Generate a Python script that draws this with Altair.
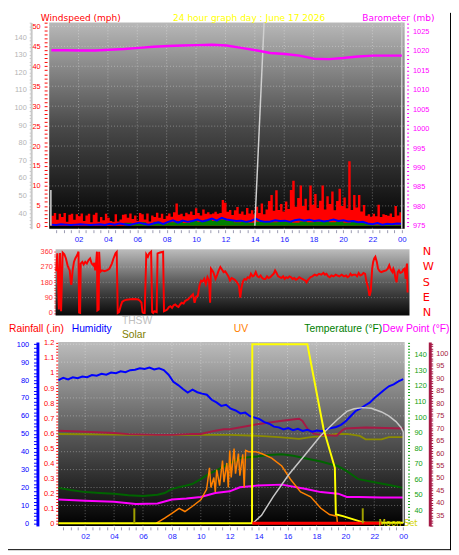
import altair as alt
import pandas as pd

# ================= readings =================
# top panel, wind (mph), samples evenly spread 00:09 -> 24:00
gust_mph = [
    2.5, 3.2, 1.5, 3.0, 2.2, 3.2,
    1.0, 2.8, 3.0, 1.5, 2.9, 2.4,
    3.1, 1.2, 2.6, 3.0, 0.9, 2.8,
    3.3, 1.0, 2.2, 1.4, 3.0, 2.0,
    1.2, 1.0, 2.9, 1.1, 1.6, 2.8,
    2.9, 2.0, 3.1, 1.7, 2.6, 1.3,
    3.2, 2.9, 1.6, 3.1, 1.1, 2.6,
    2.2, 3.3, 2.0, 3.0, 1.7, 2.5,
    3.1, 2.3, 3.4, 5.6, 2.8, 3.0,
    2.4, 3.3, 2.9, 3.6, 2.7, 4.4,
    3.2, 2.6, 4.1, 3.0, 3.4, 2.9,
    3.1, 3.5, 3.0, 3.2, 6.5, 5.8,
    3.5, 4.0, 2.7, 3.9, 4.7, 3.0,
    3.6, 2.8, 4.5, 3.1, 3.9, 2.9,
    4.8, 3.2, 5.6, 2.9, 4.1, 6.2,
    7.7, 3.8, 8.9, 4.0, 5.5, 3.6,
    6.1, 4.2, 9.0, 11.3, 4.8, 7.0,
    10.1, 5.0, 6.8, 3.9, 10.1, 5.3,
    8.0, 4.5, 6.3, 10.1, 4.1, 7.4,
    5.5, 8.6, 3.9, 6.2, 9.3, 5.0,
    7.1, 4.4, 16.2, 4.0, 7.7, 4.6,
    7.7, 3.6, 5.2, 2.5, 2.9, 2.3,
    3.0, 2.4, 5.3, 2.2, 2.9, 2.7,
    2.5, 3.1, 2.2, 5.0, 2.6, 3.4,
    4.6,
]
avg_mph = [
    0.3, 0.2, 0.4, 0.3, 0.2, 0.3, 0.4, 0.3, 0.2, 0.3, 0.4, 0.2,
    0.5, 0.3, 0.6, 0.4, 0.2, 0.5, 0.8, 0.5, 0.3, 0.6, 0.9, 0.5,
    1.0, 1.4, 0.8, 1.3, 1.0, 1.2, 1.6, 1.1, 1.4, 1.8, 1.3, 2.0,
    1.6, 1.4, 1.2, 1.3, 1.0, 1.2, 1.8, 1.2, 1.0, 1.1, 1.4, 1.2,
    1.3, 1.0, 1.4, 1.6, 1.3, 1.5, 1.2, 1.4, 1.1, 1.3, 1.6, 1.2,
    1.4, 1.1, 1.2, 0.9, 1.0, 0.6, 0.4, 0.7, 0.3, 0.5, 0.4, 0.6,
    0.5,
]
low_mph = [
    0, 0, 0, 0, 0, 0, 0, 0, 0, 0,
    0.8, 0.5, 0.9, 0.4, 1.0, 0.6, 0.9, 1.2, 0.7, 1.3, 1.0, 1.5, 1.2, 1.6,
    1.2, 0.9, 1.1, 0.8, 1.0, 1.2, 0.9, 1.1, 1.0, 0.8, 1.1, 0.9, 1.0, 1.2,
    0.9, 1.1, 0.8, 1.0, 0.7, 0.5,
    0.3, 0.2, 0.4, 0.2, 0.3,
]
baro_mb = [
    1020.2, 1020.2, 1020.1, 1020.1, 1020.3, 1020.5, 1020.8, 1021.1, 1021.3,
    1021.4, 1021.5, 1021.6, 1021.4, 1020.8, 1020.2, 1019.5, 1019.2, 1018.8,
    1018.0, 1017.9, 1018.2, 1018.6, 1018.8, 1018.8, 1018.8,
]
moon_top_mph = [(14.0, 0.0), (14.63, 51.0)]
marker_left = [(0.12, 0.0, 9.0)]

# wind direction panel (hour, degrees)
wind_dir = [
    (0.00, 245), (0.07, 350), (0.18, 20), (0.26, 352), (0.33, 10), (0.44, 355),
    (0.55, 345), (0.66, 320), (0.77, 280), (0.85, 262), (0.92, 250), (1.00, 175),
    (1.03, 165), (1.12, 250), (1.21, 300), (1.30, 320), (1.43, 340), (1.52, 360),
    (1.56, 2), (1.63, 0), (1.67, 290), (1.78, 300), (1.87, 285), (1.98, 300),
    (2.09, 290), (2.20, 310), (2.31, 320), (2.42, 290), (2.53, 280), (2.60, 295),
    (2.66, 250), (2.72, 290), (2.78, 360), (2.81, 15), (2.90, 20), (2.93, 360),
    (3.00, 240), (3.12, 250), (3.30, 245), (3.45, 250), (3.63, 260), (3.80, 290),
    (3.91, 320), (4.05, 350), (4.13, 358), (4.20, 0), (4.29, 5), (4.40, 40),
    (4.50, 65), (4.62, 72), (4.80, 78), (5.05, 80), (5.30, 82), (5.49, 81),
    (5.60, 79), (5.71, 72), (5.82, 60), (5.89, 5), (5.95, 0), (6.04, 0),
    (6.15, 345), (6.26, 330), (6.35, 350), (6.48, 360), (6.55, 5), (6.62, 0),
    (6.70, 10), (6.86, 5), (6.92, 350), (7.10, 355), (7.30, 360), (7.36, 10),
    (7.48, 15), (7.58, 20), (7.70, 35), (7.80, 40), (7.91, 30), (8.02, 45),
    (8.13, 50), (8.25, 40), (8.35, 35), (8.46, 50), (8.57, 60), (8.70, 55),
    (8.80, 70), (8.90, 75), (9.00, 80), (9.12, 90), (9.23, 100), (9.34, 110),
    (9.45, 60), (9.56, 95), (9.67, 100), (9.78, 160), (9.89, 190), (10.00, 185),
    (10.11, 200), (10.22, 170), (10.33, 210), (10.44, 190), (10.51, 60), (10.57, 260),
    (10.65, 250), (10.73, 240), (10.88, 200), (11.00, 225), (11.10, 250), (11.21, 270),
    (11.32, 255), (11.43, 240), (11.54, 245), (11.65, 230), (11.76, 215), (11.87, 190),
    (11.98, 205), (12.09, 200), (12.20, 195), (12.35, 180), (12.48, 160), (12.57, 90),
    (12.66, 150), (12.75, 185), (12.86, 200), (12.97, 195), (13.08, 210), (13.20, 205),
    (13.30, 230), (13.41, 215), (13.52, 220), (13.63, 240), (13.74, 215), (13.85, 210),
    (13.96, 220), (14.07, 205), (14.18, 200), (14.29, 200), (14.40, 215), (14.51, 205),
    (14.62, 210), (14.73, 220), (14.85, 230), (14.95, 250), (15.05, 235), (15.16, 215),
    (15.27, 210), (15.38, 205), (15.50, 215), (15.60, 200), (15.71, 210), (15.82, 205),
    (15.93, 215), (16.04, 210), (16.15, 200), (16.26, 205), (16.37, 195), (16.48, 200),
    (16.60, 210), (16.70, 205), (16.81, 200), (16.92, 195), (17.03, 190), (17.10, 180),
    (17.20, 195), (17.36, 210), (17.50, 215), (17.65, 225), (17.80, 220), (17.95, 230),
    (18.10, 225), (18.25, 235), (18.35, 225), (18.46, 230), (18.57, 215), (18.68, 210),
    (18.80, 220), (18.95, 215), (19.10, 225), (19.20, 220), (19.34, 215), (19.50, 225),
    (19.65, 215), (19.80, 220), (19.90, 210), (20.00, 215), (20.10, 230), (20.20, 220),
    (20.30, 225), (20.44, 225), (20.55, 215), (20.66, 235), (20.77, 220), (20.88, 225),
    (20.99, 235), (21.10, 230), (21.20, 180), (21.30, 150), (21.40, 100), (21.49, 130),
    (21.58, 260), (21.65, 300), (21.72, 320), (21.80, 330), (21.90, 300), (21.98, 260),
    (22.10, 245), (22.20, 240), (22.35, 245), (22.53, 250), (22.65, 260), (22.75, 280),
    (22.85, 255), (22.97, 240), (23.03, 260), (23.08, 250), (23.16, 210), (23.25, 180),
    (23.33, 240), (23.41, 250), (23.50, 235), (23.63, 240), (23.70, 255), (23.78, 260),
    (23.84, 230), (23.87, 200), (23.92, 265), (23.96, 290), (24.00, 120),
]

# bottom panel
humidity_pct = [
    80.0, 81.2, 80.4, 81.5, 81.0, 82.0, 81.6, 82.8, 82.4, 83.5, 83.0, 84.2,
    83.8, 84.9, 84.4, 85.5, 85.8, 86.6, 86.2, 87.0, 85.9, 86.6, 85.6, 83.0,
    79.0, 77.2, 75.0, 73.0, 74.6, 73.2, 72.4, 71.8, 69.0, 67.5, 65.6, 66.2,
    64.0, 63.0, 61.4, 61.8, 59.8, 59.0, 58.2, 56.5, 55.6, 54.0, 53.6, 52.4,
    53.2, 52.0, 52.8, 51.6, 52.2, 51.2, 51.8, 51.4, 52.6, 53.2, 53.8, 55.0,
    57.0, 59.8, 62.6, 64.0, 65.8, 67.4, 70.0, 72.2, 74.5, 76.5, 77.6, 79.2,
    80.5,
]
temperature_f = [
    (0.15, 54.5), (1, 53.1), (2, 51.8), (3, 51.2), (4, 50.8), (5, 49.8), (6, 49.3),
    (7, 50.1), (7.5, 51.2), (8, 53.9), (9, 56.0), (9.4, 57.0), (10, 60.1), (10.5, 63.2),
    (11, 65.5), (11.6, 68.4), (12.2, 71.0), (12.7, 73.6), (13.3, 74.2), (13.9, 74.7),
    (14.7, 75.6), (15.6, 76.1), (16.4, 75.2), (17.2, 73.6), (18.3, 71.5), (19.5, 68.4),
    (20.1, 65.3), (20.9, 60.1), (22.1, 58.0), (23.2, 56.0), (24, 54.5),
]
dew_point_f = [
    (0.15, 47.0), (2, 46.2), (4, 45.6), (5.5, 44.2), (7, 44.5), (8, 47.0), (9, 47.7),
    (10, 48.7), (11, 51.2), (12, 52.3), (12.7, 54.9), (13.9, 56.0), (15.6, 56.6),
    (17.2, 53.9), (18.3, 51.8), (19.5, 50.8), (20.1, 48.7), (20.9, 48.7), (22.5, 48.3),
    (24, 48.3),
]
crimson_f = [
    (0.15, 69.0), (2, 68.6), (4, 68.1), (5, 67.6), (7, 67.3), (8, 67.3), (9.4, 67.7),
    (10, 67.7), (11, 69.0), (11.6, 69.6), (12, 69.6), (13.9, 71.6), (15.5, 72.9),
    (16.5, 73.6), (16.8, 73.8), (17.03, 72.9), (17.4, 69.6), (17.8, 67.8), (18.3, 67.3),
    (19.4, 67.0), (19.8, 69.2), (20, 69.9), (21.4, 70.3), (24, 69.9),
]
olive_f = [
    (0.15, 67.7), (4, 67.4), (6, 67.3), (10, 67.3), (12, 67.3), (14, 66.9), (15.4, 66.4),
    (16.8, 65.7), (17.6, 66.4), (18.5, 66.9), (19.4, 67.7), (20.1, 67.7), (21, 66.9),
    (21.4, 65.5), (22.5, 65.5), (23, 66.4), (24, 66.4),
]
uv_line = [
    (6.9, 0), (7.5, 2.9), (8.0, 5.6), (8.5, 8.4), (8.9, 6.6), (9.4, 9.4), (10.0, 13.1),
    (10.4, 19), (10.6, 31), (10.7, 20), (10.9, 25.6), (11.0, 17.5), (11.1, 30), (11.3, 21),
    (11.5, 35), (11.6, 23), (11.8, 33.7), (11.9, 20), (12.0, 40.7), (12.1, 25.6),
    (12.3, 41.8), (12.4, 27.7), (12.6, 39), (12.7, 26.6), (12.9, 38.5), (13.0, 20),
    (13.1, 40.7), (13.3, 40), (13.8, 40), (14.2, 39), (14.9, 36.4), (15.6, 32),
    (16.2, 24.6), (16.9, 17.5), (17.6, 14.8), (18.3, 8.4), (18.9, 4.9), (19.4, 4),
    (19.45, 0),
]
sun_line = [
    (0.15, 0), (13.54, 0), (13.56, 100), (17.37, 100), (18.49, 52.7), (19.27, 31),
    (19.34, 5), (19.38, 4.9), (19.83, 4.0), (20.72, 1.8), (21.17, 0.7), (21.38, 0.3),
    (24, 0.3),
]
moon_line = [
    (13.6, 0), (14.2, 4.5), (15.0, 14.8), (16.1, 27.4), (17.2, 38.2), (18.3, 49),
    (19.45, 58), (20.1, 62.5), (20.6, 64), (21.2, 64.6), (21.8, 64.2), (22.5, 62.2),
    (23.0, 60.0), (23.5, 56.8), (23.85, 53.5), (24.0, 51), (24.0, 0),
]
rain_in = [(13.56, 0.0), (22.5, 0.0)]
moon_ticks = [(5.4, 8.4), (21.2, 8.4)]

# tick labels
hour_ticks = [2, 4, 6, 8, 10, 12, 14, 16, 18, 20, 22, 24]
hour_labels = ["02", "04", "06", "08", "10", "12", "14", "16", "18", "20", "22", "00"]
wind_labels = [0, 5, 10, 15, 20, 25, 30, 35, 40, 45, 50]
gray_labels = [40, 50, 60, 70, 80, 90, 100, 110, 120, 130, 140]
baro_labels = [975, 980, 985, 990, 995, 1000, 1005, 1010, 1015, 1020, 1025]
dir_label_deg = [0, 90, 180, 270, 360]
dir_letters = ["N", "E", "S", "W", "N"]
hum_labels = [0, 10, 20, 30, 40, 50, 60, 70, 80, 90, 100]
rain_labels = [0, 0.1, 0.2, 0.3, 0.4, 0.5, 0.6, 0.7, 0.8, 0.9, 1, 1.1, 1.2]
temp_labels = [40, 50, 60, 70, 80, 90, 100, 110, 120, 130, 140]
dew_labels = [35, 40, 45, 50, 55, 60, 65, 70, 75, 80, 85, 90, 95, 100, 105]

# ================= layout =================
W, H = 451, 547
SX, SY = W / 459, H / 555


def vx(x):
    return x * SX


def vy(y):
    return y * SY


def lin(cal, p):
    (v1, p1), (v2, p2) = cal
    return v1 + (p - p1) * (v2 - v1) / (p2 - p1)


def mk_scale(cal, p_lo, p_hi, horizontal):
    f = vx if horizontal else vy
    dom = [lin(cal, p_lo), lin(cal, p_hi)]
    return dom, alt.Scale(domain=dom, range=[f(p_lo), f(p_hi)], zero=False, nice=False)


def span(n, start=0.15, end=24.0):
    step = (end - start) / (n - 1)
    return [round(start + i * step, 4) for i in range(n)]


def label_expr(vals, texts):
    s = "''"
    for v, t in reversed(list(zip(vals, texts))):
        s = f"abs(datum.value - {v}) < 1e-6 ? '{t}' : ({s})"
    return s


def y_axis(orient, at, values, labels, texts, color, tick_size, pad,
           domain_color=None, domain_width=1, font_size=7.5,
           font="Liberation Sans", tick_color=None, ticks=True):
    kw = dict(orient=orient, offset=(-vx(at) if orient == "left" else vx(at) - W),
              values=values, labelExpr=label_expr(labels, texts), labelColor=color,
              labelFont=font, labelFontSize=font_size, labelPadding=pad,
              labelOverlap=False, labelFlush=False, grid=False, title=None,
              ticks=ticks, tickSize=tick_size, tickColor=tick_color or color,
              tickWidth=1, domain=domain_color is not None)
    if domain_color is not None:
        kw.update(domainColor=domain_color, domainWidth=domain_width)
    return alt.Axis(**kw)


def x_axis(at):
    return alt.Axis(orient="bottom", offset=vy(at) - H,
                    values=[i * 0.5 for i in range(1, 49)],
                    labelExpr=label_expr(hour_ticks, hour_labels),
                    labelColor="#2020ff", labelFont="Liberation Sans", labelFontSize=8,
                    labelPadding=3, labelOverlap=False, labelFlush=False, grid=False,
                    title=None, ticks=True, tickSize=3, tickColor="#9a9ab0",
                    tickWidth=1, domain=False)


# scales per panel (calibrated from tick label positions in the reference)
tx_dom, tx = mk_scale(((0, 42.6), (24, 408)), 42.7, 411, True)
wind_dom, wind_s = mk_scale(((0, 220), (50, 14)), 223, 10, False)
baro_dom, baro_s = mk_scale(((975, 220), (1025, 19.3)), 223, 10, False)
gray_dom, gray_s = mk_scale(((40, 207), (140, 25)), 223, 10, False)

dx_dom, dx = mk_scale(((0, 50), (24, 414)), 49.3, 416, True)
dir_dom, dir_s = mk_scale(((0, 310), (360, 246.7)), 312.7, 244.3, False)

bx_dom, bx = mk_scale(((0, 50), (24, 409.5)), 52, 411, True)
hum_dom, hum_s = mk_scale(((0, 527.3), (100, 342.3)), 530, 340, False)
rain_dom, rain_s = mk_scale(((0, 527.3), (1.2, 341)), 530, 340, False)
temp_dom, temp_s = mk_scale(((40, 514), (140, 353.3)), 530, 340, False)
dew_dom, dew_s = mk_scale(((35, 519), (105, 339)), 530, 340, False)


def grad(stops):
    return {"gradient": "linear", "x1": 0, "x2": 0, "y1": 0, "y2": 1,
            "stops": [{"offset": o, "color": c} for o, c in stops]}


def background(xd, xs, yd, ys, stops, ax_x=None, ax_y=None):
    df = pd.DataFrame({"x0": [xd[0]], "x1": [xd[1]], "y0": [yd[0]], "y1": [yd[1]]})
    return alt.Chart(df).mark_rect(fill=grad(stops)).encode(
        x=alt.X("x0:Q", scale=xs, axis=ax_x), x2="x1:Q",
        y=alt.Y("y0:Q", scale=ys, axis=ax_y), y2="y1:Q")


def hgrid(vals, xd, xs, ys, opacity=0.35):
    df = pd.DataFrame({"v": vals, "x0": xd[0], "x1": xd[1]})
    return alt.Chart(df).mark_rule(color="#ffffff", opacity=opacity, strokeDash=[1, 2],
                                   strokeWidth=1).encode(
        x=alt.X("x0:Q", scale=xs, axis=None), x2="x1:Q",
        y=alt.Y("v:Q", scale=ys, axis=None))


def vgrid(vals, xs, yd, ys, opacity=0.35):
    df = pd.DataFrame({"v": vals, "y0": yd[0], "y1": yd[1]})
    return alt.Chart(df).mark_rule(color="#ffffff", opacity=opacity, strokeDash=[1, 2],
                                   strokeWidth=1).encode(
        x=alt.X("v:Q", scale=xs, axis=None),
        y=alt.Y("y0:Q", scale=ys, axis=None), y2="y1:Q")


def line(pairs, xs, ys, color, width, axis=None, interpolate="linear", order=False):
    df = pd.DataFrame(pairs, columns=["h", "v"])
    df["i"] = range(len(df))
    enc = dict(x=alt.X("h:Q", scale=xs, axis=None),
               y=alt.Y("v:Q", scale=ys, axis=axis))
    if order:
        enc["order"] = alt.Order("i:Q")
    return alt.Chart(df).mark_line(color=color, strokeWidth=width,
                                   interpolate=interpolate).encode(**enc)


def area(pairs, xs, ys, color, axis=None):
    df = pd.DataFrame(pairs, columns=["h", "v"])
    df["base"] = 0.0
    return alt.Chart(df).mark_area(color=color, interpolate="step-after", opacity=1).encode(
        x=alt.X("h:Q", scale=xs, axis=None),
        y=alt.Y("v:Q", scale=ys, axis=axis), y2="base:Q")


def text(s, x, y, color, size, font="Liberation Sans", align="left"):
    return alt.Chart(pd.DataFrame({"k": [0]})).mark_text(
        text=s, color=color, fontSize=size, font=font, align=align, baseline="middle"
    ).encode(x=alt.value(vx(x)), y=alt.value(vy(y)))


layers = []

# ---------------- top panel ----------------
gray_axis = y_axis("left", 24, list(range(32, 149, 2)), gray_labels,
                   [str(v) for v in gray_labels], "#b4b4b4", 2, 3,
                   domain_color="#c8c8c8", domain_width=2, tick_color="#c8c8c8")
layers.append(background(tx_dom, tx, gray_dom, gray_s,
                         [(0, "#b8b8b8"), (0.5, "#4a4a4a"), (1, "#000000")],
                         ax_x=x_axis(224), ax_y=gray_axis))
layers.append(vgrid(hour_ticks[:-1], tx, wind_dom, wind_s))
layers.append(hgrid(wind_labels[1:], tx_dom, tx, wind_s))
wind_axis = y_axis("left", 40.5, list(range(0, 52)), wind_labels,
                   [str(v) for v in wind_labels], "#ff0000", 3, 4)
layers.append(area(list(zip(span(len(gust_mph)), gust_mph)), tx, wind_s, "#ff0000",
                   axis=wind_axis))
layers.append(area(list(zip(span(len(low_mph)), low_mph)), tx, wind_s, "#008000"))
layers.append(line(list(zip(span(len(avg_mph)), avg_mph)), tx, wind_s, "#0000ff", 2))
layers.append(line(moon_top_mph, tx, wind_s, "#d0d0d0", 1.5))
mdf = pd.DataFrame(marker_left, columns=["h", "y0", "y1"])
layers.append(alt.Chart(mdf).mark_rule(color="#d8d8d8", strokeWidth=1.5).encode(
    x=alt.X("h:Q", scale=tx, axis=None), y=alt.Y("y0:Q", scale=wind_s, axis=None),
    y2="y1:Q"))
rdf = pd.DataFrame({"h": [24.0], "y0": [wind_dom[0]], "y1": [wind_dom[1]]})
layers.append(alt.Chart(rdf).mark_rule(color="#c8c8c8", strokeWidth=1.5).encode(
    x=alt.X("h:Q", scale=tx, axis=None), y=alt.Y("y0:Q", scale=wind_s, axis=None),
    y2="y1:Q"))
baro_axis = y_axis("right", 413, list(range(975, 1028)), baro_labels,
                   [str(v) for v in baro_labels], "#ff00ff", 2, 4)
layers.append(line(list(zip(span(len(baro_mb)), baro_mb)), tx, baro_s, "#ff00ff", 2.5,
                   axis=baro_axis))

# ---------------- wind direction panel ----------------
dir_left = y_axis("left", 49.5, list(range(0, 361, 15)), dir_label_deg,
                  [str(v) for v in dir_label_deg], "#ff3030", 2, 1.5)
layers.append(background(dx_dom, dx, dir_dom, dir_s,
                         [(0, "#bcbcbc"), (0.55, "#505050"), (1, "#080808")],
                         ax_y=dir_left))
layers.append(hgrid([90, 180, 270], dx_dom, dx, dir_s, opacity=0.3))
dir_right = y_axis("right", 418, dir_label_deg, dir_label_deg, dir_letters, "#ff0000",
                   0, 11, font_size=11.5, font="DejaVu Sans", ticks=False)
layers.append(line(wind_dir, dx, dir_s, "#ff0000", 2, axis=dir_right))

# ---------------- bottom panel ----------------
hum_axis = y_axis("left", 30.5, list(range(0, 101, 2)), hum_labels,
                  [str(v) for v in hum_labels], "#0000ff", 4, 5,
                  domain_color="#0000ff", domain_width=3)
layers.append(background(bx_dom, bx, hum_dom, hum_s,
                         [(0, "#bcbcbc"), (0.5, "#585858"), (1, "#000000")],
                         ax_x=x_axis(531), ax_y=hum_axis))
layers.append(vgrid(hour_ticks[:-1], bx, hum_dom, hum_s))
layers.append(hgrid(hum_labels[1:], bx_dom, bx, hum_s))
layers.append(line(olive_f, bx, dew_s, "#8c8c00", 2))
dew_axis = y_axis("right", 437, list(range(31, 106)), dew_labels,
                  [str(v) for v in dew_labels], "#a51a45", 3, 3,
                  domain_color="#a51a45", domain_width=3)
layers.append(line(crimson_f, bx, dew_s, "#a51a45", 2, axis=dew_axis))
temp_axis = y_axis("right", 414, list(range(32, 149, 2)), temp_labels,
                   [str(v) for v in temp_labels], "#10a010", 2, 4.5)
layers.append(line(temperature_f, bx, temp_s, "#006400", 2, axis=temp_axis))
layers.append(line(dew_point_f, bx, temp_s, "#ff00ff", 2))
layers.append(line(uv_line, bx, hum_s, "#ff8000", 1.5))
layers.append(line(list(zip(span(len(humidity_pct)), humidity_pct)), bx, hum_s,
                   "#0000ff", 2))
layers.append(line(moon_line, bx, hum_s, "#c8c8c8", 1.5, order=True))
layers.append(line(sun_line, bx, hum_s, "#ffff00", 2))
rain_axis = y_axis("left", 52, [round(i * 0.02, 2) for i in range(61)], rain_labels,
                   [format(v, "g") for v in rain_labels], "#ff0000", 2.5, 2)
layers.append(line(rain_in, bx, rain_s, "#ff0000", 3, axis=rain_axis))
tdf = pd.DataFrame(moon_ticks, columns=["h", "v"])
tdf["base"] = 0.0
layers.append(alt.Chart(tdf).mark_rule(color="#a0a000", strokeWidth=2).encode(
    x=alt.X("h:Q", scale=bx, axis=None), y=alt.Y("base:Q", scale=hum_s, axis=None),
    y2="v:Q"))

# ---------------- titles ----------------
TF = "DejaVu Sans"
layers += [
    text("Windspeed (mph)", 34, 5, "#ff0000", 9.2, TF),
    text("24 hour graph day : June 17 2026", 171, 5, "#ffff00", 9.2, TF),
    text("Barometer (mb)", 367, 5, "#ff00ff", 9.2, TF),
    text("Rainfall (.in)", 1, 326.5, "#ff0000", 10.5),
    text("Humidity", 66, 326.5, "#0000ff", 10.5),
    text("THSW", 118, 318.5, "#c0c0c0", 10.5),
    text("Solar", 118, 332.5, "#808000", 10.5),
    text("UV", 234, 326.5, "#ff8000", 10.5),
    text("Temperature (°F)", 307, 326.5, "#008000", 10.5),
    text("Dew Point (°F)", 388, 326.5, "#ff00ff", 10.5),
    text("Moon Set", 384, 527, "#d4d400", 8.5, TF),
]
# outer frame (right and bottom edges lie inside the drawable area)
layers.append(alt.Chart(pd.DataFrame({"k": [0]})).mark_rule(color="#000000").encode(
    x=alt.value(W - 0.5), y=alt.value(0), y2=alt.value(H)))
layers.append(alt.Chart(pd.DataFrame({"k": [0]})).mark_rule(color="#000000").encode(
    x=alt.value(0), x2=alt.value(W), y=alt.value(H - 0.5)))

chart = alt.layer(*layers).resolve_scale(x="independent", y="independent").properties(
    width=W, height=H, padding=0, background="white",
    autosize=alt.AutoSizeParams(type="none"),
).configure_view(stroke=None)

chart.save("out.html", embed_options={"renderer": "svg", "actions": False})
